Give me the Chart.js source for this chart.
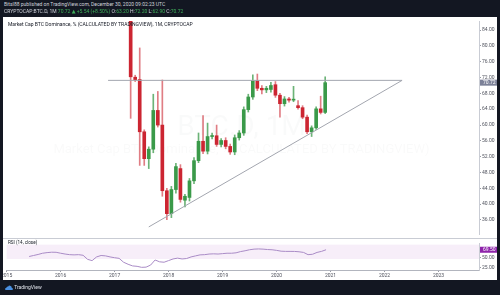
<!DOCTYPE html>
<html>
<head>
<meta charset="utf-8">
<script src="https://cdn.jsdelivr.net/npm/chart.js@4.4.0/dist/chart.umd.min.js"></script>
<style>
  body { margin: 0; width: 500px; height: 295px; background: #131722; position: relative; overflow: hidden; font-family: Roboto, "DejaVu Sans", sans-serif; }
  .abs { position: absolute; }
  #pane { left: 0; top: 17px; width: 497px; height: 263px; background: #fff; }
  #main { left: 0; top: 17px; width: 497px; height: 221px; }
  #rsi { left: 0; top: 238px; width: 497px; height: 42px; border-top: 1px solid #c9ccd4; box-sizing: border-box; }
  .edge { top: 0; height: 295px; width: 3px; background: #131722; }
  .hdr { left: 4px; font-size: 5px; line-height: 6px; color: #d1d4dc; white-space: nowrap; }
  .up { color: #3fae5a; }
  #title { left: 8px; top: 21px; font-size: 5px; color: #131722; white-space: nowrap; }
  #rsiTitle { left: 8px; top: 240px; font-size: 4.6px; color: #131722; white-space: nowrap; }
  #logo { left: 5px; top: 284px; font-size: 5px; color: #e0e3eb; white-space: nowrap; }
</style>
</head>
<body>
<div id="pane" class="abs"></div>
<div id="main" class="abs"><canvas id="mainCanvas"></canvas></div>
<div id="rsi" class="abs"><canvas id="rsiCanvas"></canvas></div>
<div class="abs hdr" style="top:1px">BitsI88 published on TradingView.com, December 30, 2020 09:02:23 UTC</div>
<div class="abs hdr" style="top:8px">CRYPTOCAP:BTC.D, 1M <span class="up">70.72 ▲ +5.54 (+8.50%)</span> O:<span class="up">63.20</span> H:<span class="up">72.20</span> L:<span class="up">62.90</span> C:<span class="up">70.72</span></div>
<div id="title" class="abs">Market Cap BTC Dominance, % (CALCULATED BY TRADINGVIEW), 1M, CRYPTOCAP</div>
<div id="rsiTitle" class="abs">RSI (14, close)</div>
<div id="logo" class="abs"><svg width="8" height="5" viewBox="0 0 8 5" style="vertical-align:middle"><path d="M1 5 Q0 5 0 4 Q0 3 1.2 3 Q1.5 1.2 3.2 1.5 Q4 0 5.6 1 Q7 1.4 6.8 3 Q8 3.2 8 4 Q8 5 7 5 Z" fill="#4a90e2"/></svg> TradingView</div>
<div class="abs edge" style="left:0"></div>
<div class="abs edge" style="left:497px"></div>
<script>
const GREEN = '#3b9a4a';
const RED = '#cc2632';

// monthly candles, first one May 2017, last one Dec 2020
const firstCandleMonth = '2017-05';
const candleOpen  = [87.6, 72.1, 71.5, 58.3, 51.5, 53.9, 63.7, 60.0, 43.4, 37.6, 43.7, 49.0, 41.0, 41.7, 45.9, 51.0,
                     55.9, 53.4, 57.1, 57.3, 55.1, 56.1, 54.6, 53.2, 56.8, 58.0, 63.9, 67.1, 71.2, 69.3, 68.9, 69.0,
                     70.2, 67.55, 65.4, 66.6, 66.3, 64.9, 64.4, 62.0, 58.3, 59.3, 64.1, 63.2];
const candleHigh  = [88.5, 72.6, 79.5, 58.8, 54.5, 67.8, 68.5, 71.4, 44.0, 44.5, 50.3, 50.0, 42.5, 46.5, 51.8, 58.0,
                     62.4, 60.5, 58.0, 60.0, 56.6, 56.8, 55.2, 57.5, 58.6, 64.6, 67.8, 72.7, 72.9, 70.0, 69.8, 70.8,
                     71.0, 68.0, 67.2, 67.0, 69.8, 66.2, 64.9, 62.5, 59.8, 64.6, 67.3, 72.2];
const candleLow   = [61.7, 71.0, 49.8, 49.8, 49.0, 53.0, 59.5, 42.0, 36.1, 36.6, 42.8, 40.5, 39.3, 40.8, 45.2, 50.5,
                     52.8, 52.7, 56.5, 54.6, 54.5, 54.0, 52.6, 52.5, 56.2, 57.4, 63.3, 66.5, 68.7, 67.9, 68.2, 68.3,
                     67.0, 62.0, 64.8, 65.8, 65.9, 64.0, 61.6, 57.8, 57.1, 58.9, 62.8, 62.9];
const candleClose = [72.2, 71.5, 58.3, 51.5, 53.9, 63.7, 60.0, 43.4, 37.6, 43.7, 49.5, 41.2, 42.0, 45.9, 51.0, 55.9,
                     53.4, 57.1, 57.3, 55.1, 56.1, 54.6, 53.2, 56.8, 58.0, 63.9, 67.1, 71.2, 69.3, 68.9, 69.3, 70.0,
                     67.55, 65.4, 66.6, 66.3, 66.5, 64.4, 62.0, 58.3, 59.3, 64.1, 63.2, 70.72];

// RSI (14, close), monthly from Jun 2015
const rsiStartMonth = '2015-06';
const rsiValues = [53, 55.5, 58, 61, 62.5, 63.5, 63.3, 61, 59, 57.5, 57, 57.5, 56, 46, 43, 52,
                   55.5, 54.5, 52, 50, 48.5, 39, 34, 30, 29, 26.5, 27, 32, 44.5, 40, 39, 43,
                   47, 49, 47, 48, 52, 54.5, 57, 57.5, 59, 59.5, 59, 60, 61, 61, 62, 65,
                   67, 69.5, 71, 71.5, 71, 70, 69.5, 68, 66, 65.5, 65.5, 65.4, 64.5, 63, 57.5, 58.5,
                   63, 65.5, 69.5];
const rsiBand = [47, 82];

// drawn lines: horizontal resistance and rising support
const resistanceLevel = 71.3;
const resistanceMonths = ['2016-12', '2022-05'];
const trendMonths = ['2017-09', '2022-05'];
const trendPrices = [34.25, 71.3];

const yearLabels = ['2015', '2016', '2017', '2018', '2019', '2020', '2021', '2022', '2023'];
const priceTicks = [36, 40, 44, 48, 52, 56, 60, 64, 68, 72, 76, 80, 84];
const rsiTicks = [50, 25];

const baseYear = +yearLabels[0];
const monthIndex = s => (+s.slice(0, 4) - baseYear) * 12 + (+s.slice(5, 7)) - 1;

const candleX = candleOpen.map((_, i) => monthIndex(firstCandleMonth) + i);
const candleColors = candleOpen.map((o, i) => candleClose[i] >= o ? GREEN : RED);
const wickColors = candleColors.map(c => c === GREEN ? 'rgba(59,154,74,0.75)' : 'rgba(204,38,50,0.6)');
const lastClose = candleClose[candleClose.length - 1];
const rsiStart = monthIndex(rsiStartMonth);

const X_MIN = 0, X_MAX = 105;
const axisFont = { family: 'Roboto', size: 5 };
const fixWidth = scale => { scale.width = 18; };

const watermark = {
  id: 'watermark',
  beforeDatasetsDraw(chart) {
    const { ctx, chartArea: a } = chart;
    ctx.save();
    ctx.fillStyle = 'rgba(19,23,34,0.022)';
    ctx.textAlign = 'center';
    ctx.font = '28px Roboto';
    ctx.fillText('BTC.D, 1M', (a.left + a.right) / 2, 118);
    ctx.font = '13px Roboto';
    ctx.fillText('Market Cap BTC Dominance, % (CALCULATED BY TRADINGVIEW)', (a.left + a.right) / 2, 136);
    ctx.restore();
  }
};

const priceTag = (value, scaleId, color, text) => ({
  id: 'tag' + scaleId,
  afterDraw(chart) {
    const { ctx } = chart;
    const s = chart.scales[scaleId];
    const y = s.getPixelForValue(value);
    ctx.save();
    ctx.fillStyle = color;
    ctx.fillRect(s.left + 1, y - 3, s.width - 1, 6);
    ctx.fillStyle = '#fff';
    ctx.font = '5px Roboto';
    ctx.textBaseline = 'middle';
    ctx.fillText(text, s.left + 4, y + 0.3);
    ctx.restore();
  }
});

new Chart(document.getElementById('mainCanvas'), {
  type: 'bar',
  data: {
    datasets: [
      {
        type: 'line',
        data: resistanceMonths.map(m => ({ x: monthIndex(m), y: resistanceLevel })),
        borderColor: '#a3a6af', borderWidth: 1, pointRadius: 0
      },
      {
        type: 'line',
        data: trendMonths.map((m, i) => ({ x: monthIndex(m), y: trendPrices[i] })),
        borderColor: '#a3a6af', borderWidth: 1, pointRadius: 0
      },
      {
        data: candleX.map((x, i) => ({ x, y: [candleLow[i], candleHigh[i]] })),
        backgroundColor: wickColors, barThickness: 1, grouped: false
      },
      {
        data: candleX.map((x, i) => ({ x, y: [candleOpen[i], candleClose[i]] })),
        backgroundColor: candleColors, barThickness: 3, grouped: false, minBarLength: 1
      }
    ]
  },
  options: {
    responsive: true,
    maintainAspectRatio: false,
    animation: false,
    events: [],
    layout: { padding: { left: 4, right: 0, top: 0, bottom: 0 }, autoPadding: false },
    plugins: { legend: { display: false }, tooltip: { enabled: false } },
    scales: {
      x: { type: 'linear', min: X_MIN, max: X_MAX, display: false, offset: false, grid: { offset: false } },
      y: {
        position: 'right',
        min: 32.46, max: 86.31,
        afterFit: fixWidth,
        afterBuildTicks: s => { s.ticks = priceTicks.map(v => ({ value: v })); },
        ticks: { font: axisFont, color: '#50535e', padding: 1, callback: v => v.toFixed(2) },
        grid: { drawOnChartArea: false, tickLength: 2, color: '#9598a1' },
        border: { color: '#c9ccd4' }
      }
    }
  },
  plugins: [watermark, priceTag(lastClose, 'y', '#7c8198', lastClose.toFixed(2))]
});

const rsiBandPlugin = {
  id: 'rsiBand',
  beforeDatasetsDraw(chart) {
    const { ctx, chartArea: a, scales: { y } } = chart;
    const top = y.getPixelForValue(rsiBand[1]);
    const bottom = y.getPixelForValue(rsiBand[0]);
    ctx.save();
    ctx.fillStyle = 'rgba(156,39,176,0.08)';
    ctx.fillRect(a.left, top, a.right - a.left, bottom - top);
    ctx.restore();
  }
};

const lastRsi = rsiValues[rsiValues.length - 1];

new Chart(document.getElementById('rsiCanvas'), {
  type: 'line',
  data: {
    datasets: [{
      data: rsiValues.map((v, i) => ({ x: rsiStart + i, y: v })),
      borderColor: '#a98bc6', borderWidth: 1, pointRadius: 0
    }]
  },
  options: {
    responsive: true,
    maintainAspectRatio: false,
    animation: false,
    events: [],
    layout: { padding: { left: 4, right: 0, top: 0, bottom: 0 }, autoPadding: false },
    plugins: { legend: { display: false }, tooltip: { enabled: false } },
    scales: {
      x: {
        type: 'linear', min: X_MIN, max: X_MAX,
        afterFit: s => { s.height = 10; },
        afterBuildTicks: s => { s.ticks = yearLabels.map((l, i) => ({ value: i * 12 })); },
        ticks: { font: axisFont, color: '#50535e', padding: 1, maxRotation: 0, autoSkip: false,
                 callback: (v, i) => yearLabels[i] },
        grid: { drawOnChartArea: false, tickLength: 2, color: '#9598a1' },
        border: { color: '#b2b5be' }
      },
      y: {
        position: 'right',
        min: 20, max: 86,
        afterFit: fixWidth,
        afterBuildTicks: s => { s.ticks = rsiTicks.map(v => ({ value: v })); },
        ticks: { font: axisFont, color: '#50535e', padding: 1, callback: v => v.toFixed(2) },
        grid: { drawOnChartArea: false, tickLength: 2, color: '#9598a1' },
        border: { color: '#c9ccd4' }
      }
    }
  },
  plugins: [rsiBandPlugin, priceTag(lastRsi, 'y', '#8e24aa', lastRsi.toFixed(2))]
});
</script>
</body>
</html>
